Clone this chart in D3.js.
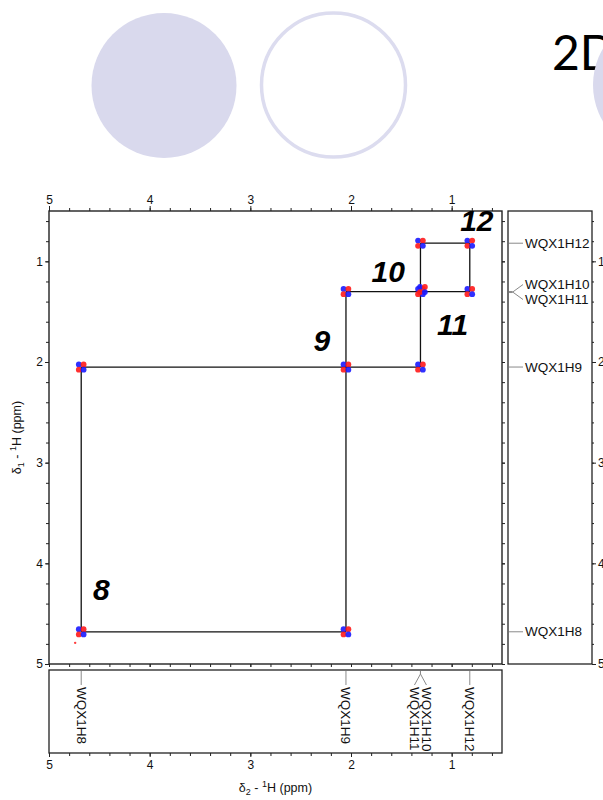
<!DOCTYPE html>
<html><head><meta charset="utf-8">
<script src="https://cdn.jsdelivr.net/npm/d3@7"></script>
<style>body{margin:0;background:#fff}svg{display:block}</style>
</head><body>
<script>
// Proton assignments (ppm) of the spin system
const atomNames = ["WQX1H8", "WQX1H9", "WQX1H10", "WQX1H11", "WQX1H12"];
const atomShifts = [4.68, 2.05, 1.31, 1.30, 0.82];

// Diagonal and cross peaks: delta2 (x) and delta1 (y), ppm
const peakD2 = [4.68, 4.68, 2.05, 2.05, 2.05, 1.31, 1.31, 1.29, 1.31, 0.82, 0.82];
const peakD1 = [4.68, 2.05, 4.68, 2.05, 1.30, 2.05, 1.30, 1.28, 0.82, 1.30, 0.82];

// Connectivity walk between peaks (segment start / end, ppm)
const walkX1 = [4.68, 4.68, 4.68, 2.05, 2.05, 1.31, 1.31, 0.82];
const walkY1 = [2.05, 4.68, 2.05, 4.68, 1.30, 0.82, 0.82, 0.82];
const walkX2 = [4.68, 2.05, 1.31, 2.05, 0.82, 1.31, 0.82, 0.82];
const walkY2 = [4.68, 4.68, 2.05, 1.30, 1.30, 2.05, 0.82, 1.30];

// Residue numbers and where they sit (ppm)
const residueLabels = ["8", "9", "10", "11", "12"];
const residueD2 = [4.48, 2.29, 1.63, 0.99, 0.75];
const residueD1 = [4.26, 1.79, 1.10, 1.63, 0.59];

// Axis ticks
const majorTicks = [1, 2, 3, 4, 5];
const minorTicks = d3.range(6, 50, 2).map(v => v / 10);

const W = 603, H = 800;
const svg = d3.select("body").append("svg").attr("width", W).attr("height", H);

// ---- decorative header ----
const lav = "#d9d9ed";
svg.append("circle").attr("cx", 164).attr("cy", 85.5).attr("r", 72.5).attr("fill", lav);
svg.append("circle").attr("cx", 333.5).attr("cy", 85).attr("r", 72)
  .attr("fill", "none").attr("stroke", "#dcdcef").attr("stroke-width", 3.5);
svg.append("text").attr("x", 552).attr("y", 70)
  .attr("font-family", "Lato, 'Open Sans', sans-serif").attr("font-size", 48)
  .attr("fill", "#000").text("2D");
svg.append("circle").attr("cx", 665).attr("cy", 85).attr("r", 72).attr("fill", lav);

// ---- scales ----
const pL = 49, pR = 502, pT = 211, pB = 664;
const x = d3.scaleLinear().domain([5, 0.5]).range([pL, pR]);
const y = d3.scaleLinear().domain([0.5, 5]).range([pT, pB]);

const font = "'Liberation Sans', Arial, sans-serif";
const frame = "#222";

function styleAxis(g) {
  g.select(".domain").remove();
  g.selectAll("line").attr("stroke", frame).attr("stroke-width", 1);
  g.selectAll("text").attr("font-family", font).attr("font-size", 12).attr("fill", "#111");
}

// main frame
svg.append("rect").attr("x", pL).attr("y", pT).attr("width", pR - pL).attr("height", pB - pT)
  .attr("fill", "none").attr("stroke", frame).attr("stroke-width", 1.4);

// top axis with labels
svg.append("g").attr("transform", `translate(0,${pT})`)
  .call(d3.axisTop(x).tickValues(majorTicks).tickSize(5).tickPadding(2).tickFormat(d3.format("d"))).call(styleAxis);
svg.append("g").attr("transform", `translate(0,${pT})`)
  .call(d3.axisTop(x).tickValues(minorTicks).tickSize(3).tickFormat("")).call(styleAxis);

// left axis with labels
svg.append("g").attr("transform", `translate(${pL},0)`)
  .call(d3.axisLeft(y).tickValues(majorTicks).tickSize(4).tickPadding(2).tickFormat(d3.format("d"))).call(styleAxis);
svg.append("g").attr("transform", `translate(${pL},0)`)
  .call(d3.axisLeft(y).tickValues(minorTicks).tickSize(3).tickFormat("")).call(styleAxis);

// unlabelled ticks on bottom and right edges of main plot
svg.append("g").attr("transform", `translate(0,${pB})`)
  .call(d3.axisBottom(x).tickValues(majorTicks.concat(minorTicks)).tickSize(3).tickFormat("")).call(styleAxis);
svg.append("g").attr("transform", `translate(${pR},0)`)
  .call(d3.axisRight(y).tickValues(majorTicks.concat(minorTicks)).tickSize(3).tickFormat("")).call(styleAxis);

// ---- walk lines ----
const plot = svg.append("g");
plot.selectAll("line.walk").data(walkX1.map((v, i) => i)).join("line")
  .attr("class", "walk")
  .attr("x1", i => x(walkX1[i])).attr("y1", i => y(walkY1[i]))
  .attr("x2", i => x(walkX2[i])).attr("y2", i => y(walkY2[i]))
  .attr("stroke", "#111").attr("stroke-width", 1.3);

// ---- peaks: positive (blue) and negative (red) lobes ----
const lobes = [
  { dx: -2.4, dy: -2.6, c: "#1a1aff" },
  { dx: 2.4, dy: -2.6, c: "#ff1a1a" },
  { dx: -2.4, dy: 2.6, c: "#ff1a1a" },
  { dx: 2.4, dy: 2.6, c: "#1a1aff" }
];
const peaks = peakD2.map((v, i) => ({ d2: v, d1: peakD1[i] }));
peaks.forEach(p => {
  const g = plot.append("g").attr("transform", `translate(${x(p.d2)},${y(p.d1)})`);
  g.selectAll("circle").data(lobes).join("circle")
    .attr("cx", l => l.dx).attr("cy", l => l.dy).attr("r", 2.9)
    .attr("fill", l => l.c).attr("opacity", 0.9);
});
// weak artefact near H8 diagonal
plot.append("circle").attr("cx", x(4.74)).attr("cy", y(4.79)).attr("r", 1.2).attr("fill", "#ff4040");

// ---- residue numbers ----
plot.selectAll("text.res").data(residueLabels).join("text")
  .attr("class", "res")
  .attr("x", (d, i) => x(residueD2[i])).attr("y", (d, i) => y(residueD1[i]))
  .attr("text-anchor", "middle").attr("dominant-baseline", "central")
  .attr("font-family", font).attr("font-weight", "bold").attr("font-style", "italic")
  .attr("font-size", 30).attr("fill", "#000").text(d => d);

// ---- right projection panel (delta1) ----
const rL = 508, rR = 592;
svg.append("rect").attr("x", rL).attr("y", pT).attr("width", rR - rL).attr("height", pB - pT)
  .attr("fill", "none").attr("stroke", frame).attr("stroke-width", 1.3);
svg.append("g").attr("transform", `translate(${rR},0)`)
  .call(d3.axisRight(y).tickValues(majorTicks).tickSize(4).tickPadding(2).tickFormat(d3.format("d"))).call(styleAxis);
svg.append("g").attr("transform", `translate(${rR},0)`)
  .call(d3.axisRight(y).tickValues(minorTicks).tickSize(2).tickFormat("")).call(styleAxis);

// label spread for overlapping shifts (px)
const spread = [0, 0, -8, 8, 0];
const leader = "#8a8a8a";
atomNames.forEach((name, i) => {
  const py = y(atomShifts[i] === 1.30 ? 1.30 : atomShifts[i]);
  const ty = py + spread[i];
  svg.append("path")
    .attr("d", `M${rL + 1},${py}L${rL + 4},${py}L${rL + 15},${ty}`)
    .attr("fill", "none").attr("stroke", leader).attr("stroke-width", 1);
  svg.append("text").attr("x", rL + 17).attr("y", ty)
    .attr("dominant-baseline", "central")
    .attr("font-family", font).attr("font-size", 13.5).attr("fill", "#111").text(name);
});

// ---- bottom projection panel (delta2) ----
const bT = 670, bB = 753;
svg.append("rect").attr("x", pL).attr("y", bT).attr("width", pR - pL).attr("height", bB - bT)
  .attr("fill", "none").attr("stroke", frame).attr("stroke-width", 1.3);
svg.append("g").attr("transform", `translate(0,${bB})`)
  .call(d3.axisBottom(x).tickValues(majorTicks).tickSize(4).tickPadding(3).tickFormat(d3.format("d"))).call(styleAxis);
svg.append("g").attr("transform", `translate(0,${bB})`)
  .call(d3.axisBottom(x).tickValues(minorTicks).tickSize(3).tickFormat("")).call(styleAxis);

const spreadX = [0, 0, 6, -6, 0];
atomNames.forEach((name, i) => {
  const px = x(atomShifts[i] === 1.30 ? 1.31 : atomShifts[i]);
  const tx = px + spreadX[i];
  svg.append("path")
    .attr("d", `M${px},${bT + 1}L${px},${bT + 4}L${tx},${bT + 15}`)
    .attr("fill", "none").attr("stroke", leader).attr("stroke-width", 1);
  svg.append("text").attr("transform", `translate(${tx},${bT + 17}) rotate(90)`)
    .attr("dominant-baseline", "central")
    .attr("font-family", font).attr("font-size", 13.5).attr("fill", "#111").text(name);
});

// ---- axis titles ----
const xt = svg.append("text").attr("x", (pL + pR) / 2).attr("y", 792)
  .attr("text-anchor", "middle").attr("font-family", font).attr("font-size", 12.5).attr("fill", "#111");
xt.append("tspan").text("δ");
xt.append("tspan").attr("font-size", 9).attr("dy", 3).text("2");
xt.append("tspan").attr("dy", -3).text(" - ");
xt.append("tspan").attr("font-size", 9).attr("dy", -5).text("1");
xt.append("tspan").attr("dy", 5).text("H  (ppm)");

const yt = svg.append("text").attr("transform", `translate(21,${(pT + pB) / 2}) rotate(-90)`)
  .attr("text-anchor", "middle").attr("font-family", font).attr("font-size", 12.5).attr("fill", "#111");
yt.append("tspan").text("δ");
yt.append("tspan").attr("font-size", 9).attr("dy", 3).text("1");
yt.append("tspan").attr("dy", -3).text(" - ");
yt.append("tspan").attr("font-size", 9).attr("dy", -5).text("1");
yt.append("tspan").attr("dy", 5).text("H  (ppm)");
</script>
</body></html>
